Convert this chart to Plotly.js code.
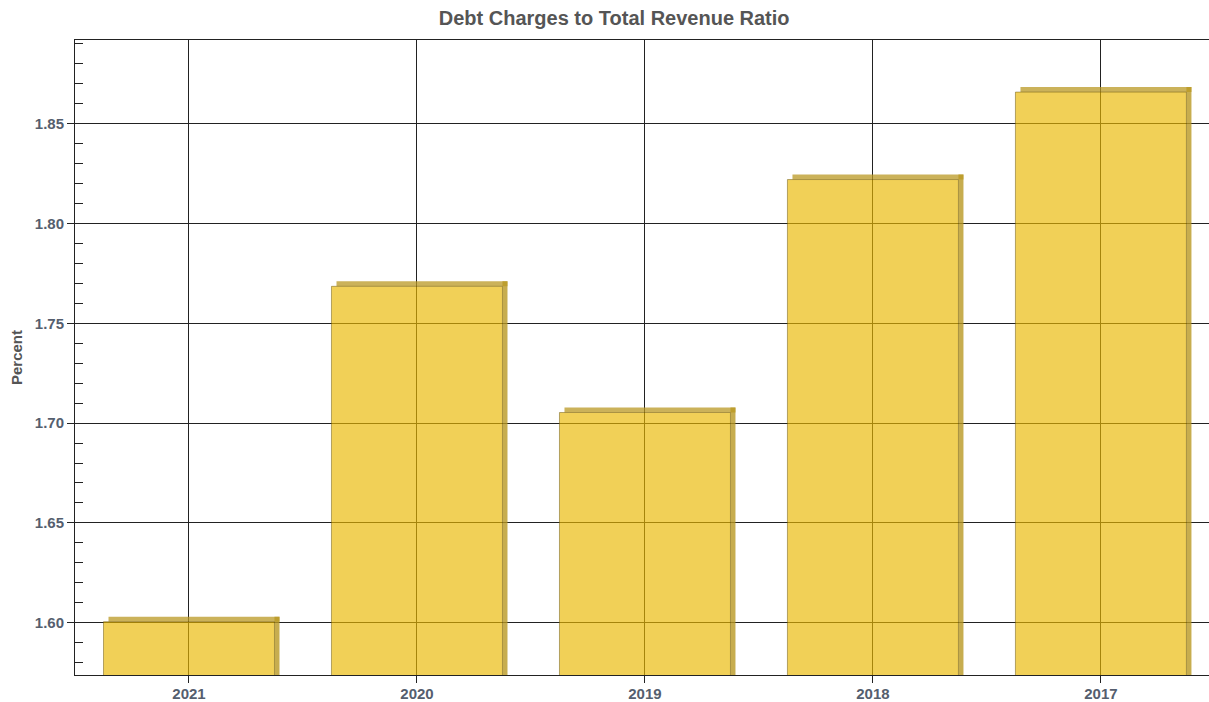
<!DOCTYPE html>
<html>
<head>
<meta charset="utf-8">
<script src="https://cdn.plot.ly/plotly-3.0.1.min.js"></script>
<style>html,body{margin:0;padding:0;background:#fff;}#chart{width:1209px;height:702px;}</style>
</head>
<body>
<div id="chart"></div>
<script>
const years = ["2021", "2020", "2019", "2018", "2017"];
const ratios = [1.6005, 1.7685, 1.7053, 1.8220, 1.8658];

const depthY = 0.0025;   // 3D depth (style), in data units
const depthX = 0.022;    // 3D depth (style), in category units
const barW = 0.75;
const font = "Liberation Sans, Arial, sans-serif";

// top strip of the 3D depth
const depthTop = {
  type: "bar",
  x: years,
  y: ratios.map(() => depthY),
  base: ratios,
  width: barW,
  offset: -barW / 2 + depthX,
  marker: {color: "rgba(185,152,35,0.75)", line: {width: 0}},
  hoverinfo: "skip",
  showlegend: false
};

// right strip of the 3D depth
const depthSide = {
  type: "bar",
  x: years,
  y: ratios.map(v => v + depthY),
  width: depthX,
  offset: barW / 2,
  marker: {color: "rgba(185,152,35,0.8)", line: {width: 0}},
  hoverinfo: "skip",
  showlegend: false
};

const frontTrace = {
  type: "bar",
  x: years,
  y: ratios,
  width: barW,
  offset: -barW / 2,
  marker: {color: "rgba(234,184,0,0.66)", line: {color: "rgba(110,90,20,0.5)", width: 1}},
  showlegend: false
};

const layout = {
  width: 1209,
  height: 702,
  margin: {l: 75, r: 0, t: 40, b: 27},
  paper_bgcolor: "#ffffff",
  plot_bgcolor: "#ffffff",
  barmode: "overlay",
  title: {
    text: "Debt Charges to Total Revenue Ratio",
    font: {family: font, size: 20, color: "#555555", weight: "bold"},
    x: 0.508, xref: "container", xanchor: "center",
    y: 0.974, yref: "container", yanchor: "middle"
  },
  xaxis: {
    type: "category",
    range: [-0.5, 4.474],
    showline: true, linecolor: "#222", linewidth: 1, mirror: true,
    ticks: "outside", ticklen: 7, tickcolor: "#222",
    ticklabelstandoff: -2,
    showgrid: true, gridcolor: "#222", gridwidth: 1,
    tickfont: {family: font, size: 15, color: "#555e6e", weight: "bold"},
    fixedrange: true
  },
  yaxis: {
    range: [1.5738, 1.8919],
    tick0: 1.6, dtick: 0.05, tickformat: ".2f",
    showline: true, linecolor: "#222", linewidth: 1,
    ticks: "outside", ticklen: 7, tickcolor: "#222",
    showgrid: true, gridcolor: "#222", gridwidth: 1,
    zeroline: false,
    minor: {ticks: "inside", ticklen: 8, dtick: 0.01, tick0: 1.6, tickcolor: "#222", showgrid: false},
    tickfont: {family: font, size: 15, color: "#555e6e", weight: "bold"},
    title: {text: "Percent", standoff: 8, font: {family: font, size: 15, color: "#555555", weight: "bold"}},
    fixedrange: true
  }
};

Plotly.newPlot("chart", [depthTop, depthSide, frontTrace], layout, {displayModeBar: false, staticPlot: true});
</script>
</body>
</html>
